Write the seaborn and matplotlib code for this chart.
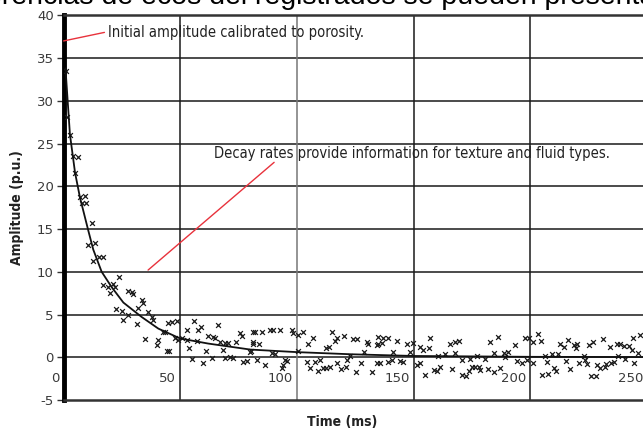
import os
import matplotlib
matplotlib.use("Agg")
import matplotlib.pyplot as plt
import matplotlib.transforms as mtransforms
from matplotlib import font_manager
from matplotlib.font_manager import FontProperties
import seaborn as sns
import pandas as pd

# Measured echo amplitudes (p.u.) against time (ms)
time_ms = [
    1.0, 1.6, 2.7, 4.2, 6.3, 4.9, 7.0, 9.2, 7.8, 9.6, 12.0, 10.6, 13.5, 12.5, 15.3, 17.0,
    23.9, 17.0, 19.2, 21.3, 19.9, 21.9, 27.7, 22.5, 24.9, 25.6, 27.7,
    29.2, 29.9, 33.5, 34.0, 32.0, 36.0, 38.0, 38.3, 31.3, 44.9, 46.6, 48.5, 42.7, 43.4,
    34.9, 40.6, 39.9, 44.2, 45.3, 47.7, 49.2, 50.6, 52.8, 53.9, 56.0, 52.8, 57.7, 58.9,
    57.0, 54.9, 59.9, 61.0, 63.5, 61.8, 63.8, 64.9, 66.0, 67.0, 68.2, 69.2, 70.6, 69.2,
    71.3, 72.7, 75.6, 76.3, 73.9, 77.0, 78.4, 80.3, 81.3, 81.3,
    82.0, 84.9, 88.5, 89.9, 92.8, 97.8, 98.4, 100.6, 102.7, 81.0, 83.9, 79.9, 82.8, 86.3,
    89.2, 90.6, 94.2, 94.9, 95.6, 93.5, 100.6, 104.9, 107.0, 104.2, 105.6, 107.8, 109.9,
    109.2, 111.0, 112.4, 114.2, 112.5, 113.5, 114.9, 116.3, 117.3, 120.2, 117.3, 118.8,
    121.0, 121.3, 122.8, 124.2, 125.9, 125.3, 127.3, 128.5, 129.9, 130.6, 132.0, 134.2, 134.2,
    134.9, 137.0, 139.2, 134.9, 136.4, 142.8, 147.0, 149.9, 141.3, 148.5, 135.6, 139.2,
    140.6, 144.2, 145.6, 151.3, 152.7, 154.9, 152.7, 154.1, 156.6, 157.0, 158.5, 159.9,
    161.3, 160.6, 163.5, 166.3, 165.6, 167.5, 169.2, 167.8, 170.9, 174.2, 170.9, 172.3,
    173.5, 174.9, 176.3, 177.8, 178.5, 177.0, 180.6, 182.8, 186.0, 182.0, 184.6, 184.2,
    187.0, 188.5, 189.2,
    190.3, 193.2, 194.2, 196.2, 197.8, 199.2, 198.5, 201.3, 203.2, 204.4, 201.3, 204.9,
    207.5, 206.3, 207.0, 209.2, 212.0, 209.9, 210.8, 212.8, 214.2, 216.3, 218.5, 219.4,
    219.9, 215.2, 217.0, 220.9, 223.5, 224.2, 222.8, 224.9, 227.0, 226.0, 228.0, 228.5,
    229.9, 230.9, 231.8, 232.6, 234.6, 235.7, 234.2, 237.1, 238.5, 239.9, 237.5, 240.6,
    242.3, 243.5, 244.6, 244.1, 247.0, 246.3,
]
amplitude_pu = [
    33.5, 28.1, 26.0, 23.6, 23.4, 21.6, 18.7, 18.9, 18.0, 18.1, 15.7, 13.1, 13.4, 11.3, 11.7, 11.7,
    9.4, 8.4, 8.2, 8.6, 7.5, 8.2, 7.8, 5.7, 5.4, 4.4, 4.9,
    7.6, 7.4, 6.7, 6.4, 5.8, 5.3, 4.7, 4.3, 3.9, 4.0, 4.1, 4.2, 3.0, 2.9,
    2.1, 2.0, 1.4, 0.7, 0.7, 2.2, 2.0, 2.2, 2.0, 1.1, 4.2, 3.2, 3.2, 3.5,
    1.9, -0.2, -0.7, 0.7, -0.1, 2.5, 2.4, 2.2, 3.8, 1.8, 0.9, 1.7, 1.7, -0.1,
    0.0, -0.1, 2.8, 2.5, 1.8, -0.5, -0.4, 0.7, 1.8, 3.0,
    2.9, 2.9, 3.2, 3.2, 3.2, 3.2, 2.8, 2.6, 2.9, 1.6, 1.6, 0.6, -0.3, -0.9,
    0.5, 0.4, -0.9, -0.3, -0.4, -1.3, 0.7, 1.5, 2.2, -0.5, -1.3, -0.5, -0.3,
    -1.6, -1.2, -1.2, -1.1, 1.1, 1.2, 2.9, 1.9, 2.2, 2.5, -0.7, -1.4,
    -1.1, -0.3, 0.2, 2.1, 2.1, -1.7, -0.7, 0.6, 1.8, 1.5, -1.7, -0.7, 1.4,
    2.4, 2.3, 2.2, 1.5, 1.7, 1.9, 1.6, 1.7, 0.6, 0.6, -0.7, -0.5,
    -0.3, -0.4, -0.5, -0.9, -0.7, -2.1, 1.2, 0.8, 1.1, 2.2, -1.5, -1.6,
    -1.1, 0.2, 0.4, -1.4, 1.6, 1.8, 1.9, 0.5, -0.3, -0.2, -2.1, -2.2,
    -1.6, -1.1, -1.1, -1.1, -1.5, 0.2, -0.2, 1.8, 2.4, -1.4, -1.7, 0.5,
    -1.3, 0.5, 0.0,
    0.6, 1.4, -0.4, -0.7, 2.3, 2.2, -0.3, 1.8, 2.7, 1.9, -0.7, -2.1,
    -2.0, 0.2, -0.5, 0.4, 0.4, -1.3, -1.6, 1.6, 1.2, 2.0, 1.4, 1.1,
    1.5, -0.4, -1.4, -0.7, -0.3, -0.8, 0.1, 1.4, 1.8, -2.2, -2.2, -0.9,
    -1.3, 2.1, -1.1, -0.8, -0.7, -0.6, 1.2, 1.6, 1.5, 1.3, 0.1, -0.2,
    1.3, 0.8, -0.7, 2.3, 2.6, 0.5,
]

# Fitted decay curve
fit_time_ms = [0.8, 2.7, 4.9, 7.0, 10.6, 12.7, 16.3, 20.6, 25.6, 33.5, 40.6, 49.9,
               62.0, 80.0, 100.0, 123.0, 150.0, 200.0, 250.0]
fit_amplitude = [33.8, 26.1, 21.6, 18.7, 14.8, 12.6, 10.0, 8.2, 6.4, 4.7, 3.35, 2.2,
                 1.6, 0.9, 0.6, 0.35, 0.15, 0.05, 0.02]

x_ticks = [0, 50, 100, 150, 200, 250]
y_ticks = [-5, 0, 5, 10, 15, 20, 25, 30, 35, 40]

# Callout lines (start and end points in data units)
porosity_line_t = [0.0, 17.5]
porosity_line_a = [37.0, 38.0]
decay_line_t = [36.2, 90.2]
decay_line_a = [10.2, 22.8]

note_porosity = "Initial amplitude calibrated to porosity."
note_decay = "Decay rates provide information for texture and fluid types."
header_text = "diferencias de ecos del registrados se pueden presentar"


def narrow_font(bold=False):
    """Return FontProperties for a condensed sans face if one is installed."""
    wanted_names = ["Liberation Sans Narrow", "DejaVu Sans", "Open Sans", "Noto Sans", "Roboto"]
    best = None
    for f in font_manager.fontManager.ttflist:
        base = os.path.basename(f.fname).lower()
        condensed = ("narrow" in base or "condensed" in base or
                     str(f.stretch) in ("condensed", "semi-condensed", "75", "87"))
        if not condensed:
            continue
        is_bold = ("bold" in base) or (str(f.weight) in ("700", "bold"))
        if is_bold != bold or "italic" in base or "oblique" in base:
            continue
        rank = wanted_names.index(f.name) if f.name in wanted_names else len(wanted_names)
        if best is None or rank < best[0]:
            best = (rank, f.fname)
    if best is not None:
        return FontProperties(fname=best[1])
    return FontProperties(family="DejaVu Sans", weight="bold" if bold else "normal")


sns.set_theme(style="white")
plt.rcParams["font.family"] = ["DejaVu Sans"]

fp_note = narrow_font(bold=False)
fp_label = narrow_font(bold=True)
note_is_narrow = fp_note.get_file() is not None

fig = plt.figure(figsize=(6.43, 4.32), dpi=100)
W, H = 643.0, 432.0
x0_px, x_scale = 63.6, 116.7 / 50.0
top_px, bot_px = 15.3, 400.0
xmax = 260.0
ax_w_px = xmax * x_scale
ax_h_px = bot_px - top_px
ax = fig.add_axes([x0_px / W, (H - bot_px) / H, ax_w_px / W, ax_h_px / H])

points = pd.DataFrame({"time": time_ms, "amp": amplitude_pu})
fit = pd.DataFrame({"time": fit_time_ms, "amp": fit_amplitude})

sns.scatterplot(data=points, x="time", y="amp", marker="x", s=12, color="#1a1a1a",
                linewidth=0.9, ax=ax, zorder=3)
sns.lineplot(data=fit, x="time", y="amp", color="#111111", linewidth=1.3, ax=ax,
             zorder=4, sort=False)

ax.set_xlim(0, xmax)
ax.set_ylim(-5, 40)

# Grid
for yv in y_ticks[1:-1]:
    ax.axhline(yv, color="#1a1a1a", linewidth=1.1, zorder=1)
for xv in x_ticks[1:]:
    col = "#777777" if xv == 100 else "#1a1a1a"
    ax.axvline(xv, color=col, linewidth=1.1, zorder=1)

# Spines
ax.spines["left"].set_visible(True)
ax.spines["left"].set_linewidth(3.5)
ax.spines["left"].set_color("black")
ax.spines["top"].set_visible(True)
ax.spines["top"].set_linewidth(1.8)
ax.spines["top"].set_color("#333333")
ax.spines["bottom"].set_visible(True)
ax.spines["bottom"].set_linewidth(1.8)
ax.spines["bottom"].set_color("#333333")
ax.spines["right"].set_visible(False)

ax.set_yticks(y_ticks)
ax.set_yticklabels([str(v) for v in y_ticks])
ax.tick_params(axis="y", direction="out", length=5, width=1, color="#333333",
               labelsize=9.5, labelcolor="#3a3a3a", pad=2, left=True)
ax.set_xticks([])

# Time labels sit inside the plot, just left of each grid line
lab_trans = mtransforms.offset_copy(ax.transData, fig=fig, x=-4, y=0, units="dots")
for xv in x_ticks:
    ax.text(xv, -2.5, str(xv), transform=lab_trans, ha="right", va="center",
            fontsize=9.5, color="#3a3a3a", clip_on=False, zorder=5)

lab_fp = fp_label.copy()
lab_fp.set_size(10 if fp_label.get_file() else 9)
ax.set_xlabel("Time (ms)", fontproperties=lab_fp, color="#222222", va="center")
ax.xaxis.set_label_coords((342 - x0_px) / ax_w_px, -22 / ax_h_px)
ax.set_ylabel("Amplitude (p.u.)", fontproperties=lab_fp, color="#222222", va="center")
ax.yaxis.set_label_coords(-(x0_px - 17) / ax_w_px, 0.5)

# Callouts
note_fp = fp_note.copy()
note_fp.set_size(10.5 if note_is_narrow else 8.8)
ax.plot(porosity_line_t, porosity_line_a, color="#e8323c", linewidth=1.0, zorder=5,
        clip_on=False)
ax.plot(decay_line_t, decay_line_a, color="#e8323c", linewidth=1.0, zorder=5)
ax.text(19.0, 38.0, note_porosity, fontproperties=note_fp, color="#222222",
        ha="left", va="center", zorder=6)
ax.text(64.5, 23.8, note_decay, fontproperties=note_fp, color="#222222",
        ha="left", va="center", zorder=6)

# Running text above the chart (only its lower part falls inside the page)
fig.text(-44 / W, (H - 4) / H, header_text, fontsize=20.5, family="Liberation Sans",
         color="black", ha="left", va="baseline")

fig.savefig("out.png", dpi=100)
